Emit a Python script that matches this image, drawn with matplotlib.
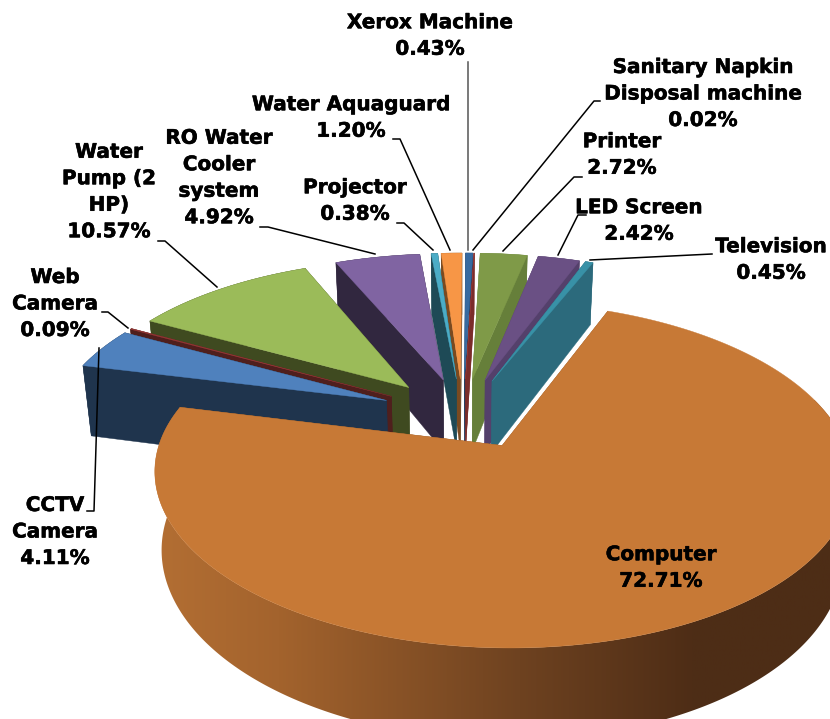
import numpy as np
import matplotlib
matplotlib.use("Agg")
import matplotlib.pyplot as plt
import matplotlib.patheffects as pe
from matplotlib.colors import LinearSegmentedColormap
from matplotlib.patches import Polygon

# ================= DATA =================
names = ["Computer", "CCTV\nCamera", "Web\nCamera", "Water\nPump (2\nHP)",
         "RO Water\nCooler\nsystem", "Projector", "Water Aquaguard", "Xerox Machine",
         "Sanitary Napkin\nDisposal machine", "Printer", "LED Screen", "Television"]
shares = [72.71, 4.11, 0.09, 10.57, 4.92, 0.38, 1.20, 0.43, 0.02, 2.72, 2.42, 0.45]

top_colors = ["#c77936", "#4f81bd", "#953735", "#9bbb59", "#8064a2", "#4bacc6",
              "#f79646", "#376aa0", "#953735", "#7f9a48", "#6a5084", "#3891a7"]
wall_colors = ["#8a5526", "#1f344d", "#4f1f1d", "#3f4a20", "#31273f", "#1e4a56",
               "#7a4a20", "#1f3a5c", "#7b2c2a", "#667f3a", "#54406b", "#2c6a7c"]

# centre of each label block, and the leader line drawn for it
label_xy = [(661, 568), (55, 532), (55, 304), (109, 192), (219, 178), (355, 201),
            (351, 118), (430, 36), (703, 94), (622, 155), (639, 221), (771, 260)]
leaders = [None,
           [(87, 511), (94, 511), (99, 348)],
           [(102, 312), (108, 312), (128, 328)],
           [(158, 241), (165, 241), (217, 287)],
           [(260, 227), (268, 227), (375, 254)],
           [(397, 223), (404, 223), (433, 250)],
           [(393, 139), (400, 139), (450, 250)],
           [(468, 62), (468, 250)],
           [(600, 101), (594, 101), (473, 250)],
           [(582, 177), (574, 177), (503, 251)],
           [(586, 215), (578, 215), (558, 255)],
           [(712, 254), (590, 260)]]

# ================= PIE GEOMETRY =================
cx, cy = 463, 413
R, H = 332, 157
persp = 0.165
ex_u, ex_v = 0.25, 0.225
depth = 74
taper = 0.978
start = 22


def project(u, v, low=False):
    s = 1 / (1 + persp * v)
    x = cx + R * u * s
    y = cy - H * v * s
    if low:
        x = cx + (x - cx) * taper
        y = y + depth * s
    return np.column_stack([x, y])


def face(a, b, n, low=False):
    # rim points between clock angles a and b, plus the exploded apex
    t = np.radians(np.linspace(a, b, n))
    m = np.radians((a + b) / 2)
    du, dv = ex_u * np.sin(m), ex_v * np.cos(m)
    rim = project(du + np.sin(t), dv + np.cos(t), low)
    tip = project(np.array([du]), np.array([dv]), low)
    return rim, tip


fig = plt.figure(figsize=(8.3, 7.19), dpi=100)
ax = fig.add_axes([0, 0, 1, 1])
ax.set_xlim(0, 830)
ax.set_ylim(719, 0)
ax.axis("off")

angles = 360 * np.array(shares) / sum(shares)
ends = start + np.cumsum(angles)
begins = ends - angles
mids = (begins + ends) / 2

# back slices first, computer last
order = sorted(range(len(shares)), key=lambda i: abs(((mids[i] + 180) % 360) - 180))

z = 1
for i in order:
    n = max(int(angles[i] * 2), 6)
    rim, tip = face(begins[i], ends[i], n)
    rim_low, tip_low = face(begins[i], ends[i], n, low=True)

    for a, b in [(0, 0), (-1, -1)]:
        wall = np.vstack([tip, rim[a], rim_low[b], tip_low])
        ax.add_patch(Polygon(wall, color=wall_colors[i], lw=0.3, zorder=z))
    outer = np.vstack([rim, rim_low[::-1]])
    if i == 0:
        cmap = LinearSegmentedColormap.from_list(
            "wall", [(0, "#b57034"), (0.2, "#a3632d"), (0.55, "#6e4220"), (0.8, "#4e2d16"), (1, "#4d2d16")])
        patch = Polygon(outer, fc="none", ec="none", zorder=z)
        ax.add_patch(patch)
        img = ax.imshow(np.linspace(0, 1, 256).reshape(1, -1), cmap=cmap, aspect="auto",
                        extent=[140, 830, 719, 400], zorder=z)
        img.set_clip_path(patch)
        ax.set_xlim(0, 830)
        ax.set_ylim(719, 0)
    else:
        ax.add_patch(Polygon(outer, color=wall_colors[i], lw=0.3, zorder=z))
    ax.add_patch(Polygon(np.vstack([tip, rim]), color=top_colors[i], lw=0.3, zorder=z + 1))
    z += 2

# ================= LABELS =================
for i, name in enumerate(names):
    ax.text(label_xy[i][0], label_xy[i][1], f"{name}\n{shares[i]:.2f}%", ha="center", va="center",
            ma="center", fontsize=14.4, fontweight="bold", family="DejaVu Sans", color="black",
            linespacing=1.5, zorder=100,
            path_effects=[pe.withStroke(linewidth=0.4, foreground="black")])
    if leaders[i]:
        xs, ys = zip(*leaders[i])
        ax.plot(xs, ys, color="#555555" if i == 7 else "black", lw=1.1, zorder=99)

fig.savefig("out.png", dpi=100, facecolor="white")
